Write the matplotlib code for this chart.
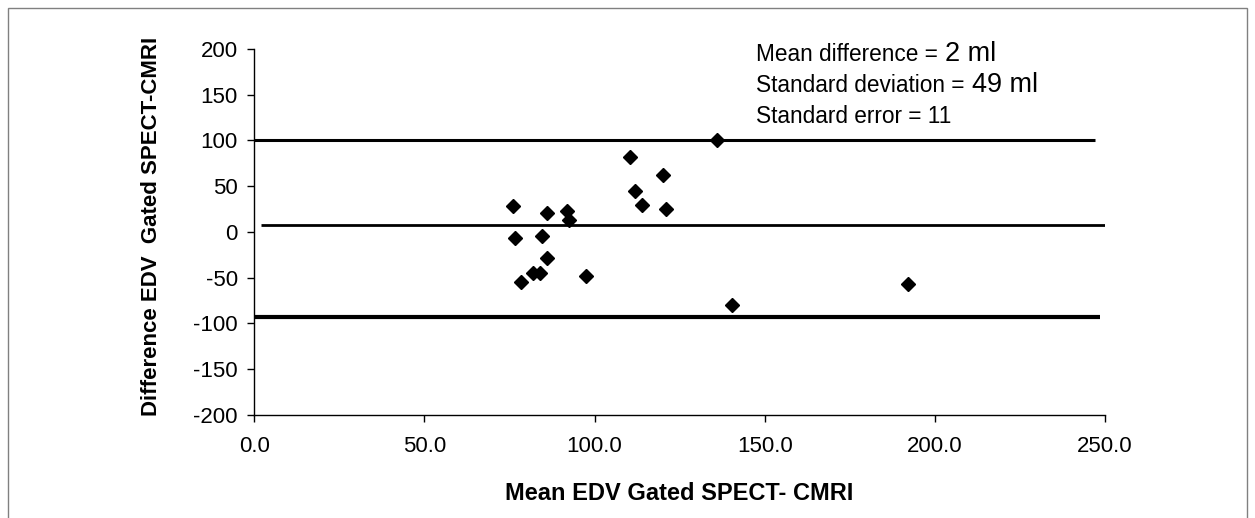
# -*- coding: utf-8 -*-
"""
Bland-Altman plot, EDV gated SPECT vs CMRI
"""

import matplotlib
matplotlib.use("Agg")
import matplotlib.pyplot as plt
from matplotlib.patches import Rectangle

plt.rcParams['font.family'] = ['Liberation Sans', 'DejaVu Sans']


# data
mean_edv = [76, 86, 92, 92.5, 76.5, 84.5, 86, 82, 84, 78.5, 97.5,
            110.5, 120, 112, 114, 121, 136, 140.5, 192]
diff_edv = [28, 21, 22.5, 13.5, -7, -5, -29, -45, -45.5, -55, -48.5,
            82, 62, 44.5, 29, 25, 100, -80, -56.5]

upper_x = [0, 247]
upper_y = [100, 100]
mean_x = [2, 250]
mean_y = [8, 8]
lower_x = [0, 248.5]
lower_y = [-93, -93]

x_ticks = [0, 50, 100, 150, 200, 250]
y_ticks = [-200, -150, -100, -50, 0, 50, 100, 150, 200]

stats_lines = [("Mean difference =", "2 ml"),
               ("Standard deviation =", "49 ml"),
               ("Standard error = 11", "")]


W, H = 1255, 518
fig = plt.figure(figsize=(W / 100, H / 100), dpi=100)
ax = fig.add_axes([254.3 / W, 103.3 / H, (1105 - 254.3) / W, (414.7 - 49) / H])

ax.plot(upper_x, upper_y, color="black", lw=2.2, solid_capstyle="butt")
ax.plot(mean_x, mean_y, color="black", lw=2.0, solid_capstyle="butt")
ax.plot(lower_x, lower_y, color="black", lw=3.0, solid_capstyle="butt")
ax.plot(mean_edv, diff_edv, linestyle="none", marker="D", markersize=7.5,
        color="black", zorder=3, clip_on=False)

ax.set_xlim(0, 250)
ax.set_ylim(-200, 200)
ax.set_xticks(x_ticks)
ax.set_xticklabels([f"{v:.1f}" for v in x_ticks])
ax.set_yticks(y_ticks)
ax.set_yticklabels([str(v) for v in y_ticks])

for s in ["top", "right"]:
    ax.spines[s].set_visible(False)
for s in ["left", "bottom"]:
    ax.spines[s].set_linewidth(1)
    ax.spines[s].set_color("black")

ax.tick_params(axis="both", direction="out", length=5, width=1,
               labelsize=16, colors="black")
ax.tick_params(axis="x", pad=10.5)
ax.tick_params(axis="y", pad=7)

ax.set_xlabel("Mean EDV Gated SPECT- CMRI", fontsize=17, fontweight="bold",
              va="center")
ax.xaxis.set_label_coords(0.5, -(493 - 414.7) / (414.7 - 49))
ax.set_ylabel("Difference EDV  Gated SPECT-CMRI", fontsize=16,
              fontweight="bold", va="center")
ax.yaxis.set_label_coords((152 - 254.3) / (1105 - 254.3), 1 - (226.7 - 49) / (414.7 - 49))

# stats text, second part in a bigger font
baselines = [61, 92, 123]
fig.canvas.draw()
renderer = fig.canvas.get_renderer()
for (a, b), yb in zip(stats_lines, baselines):
    t = fig.text(756 / W, 1 - yb / H, a, fontsize=16.3, va="baseline",
                 ha="left", color="black")
    if b:
        bb = t.get_window_extent(renderer)
        fig.text((bb.x1 + 7) / W, 1 - yb / H, b, fontsize=19.5,
                 va="baseline", ha="left", color="black")

# outer frame
fig.patches.append(Rectangle((8 / W, -0.02), (1247 - 8) / W, (H - 8) / H + 0.02,
                             transform=fig.transFigure, fill=False,
                             edgecolor="#808080", lw=1))

fig.savefig("out.png", dpi=100)
